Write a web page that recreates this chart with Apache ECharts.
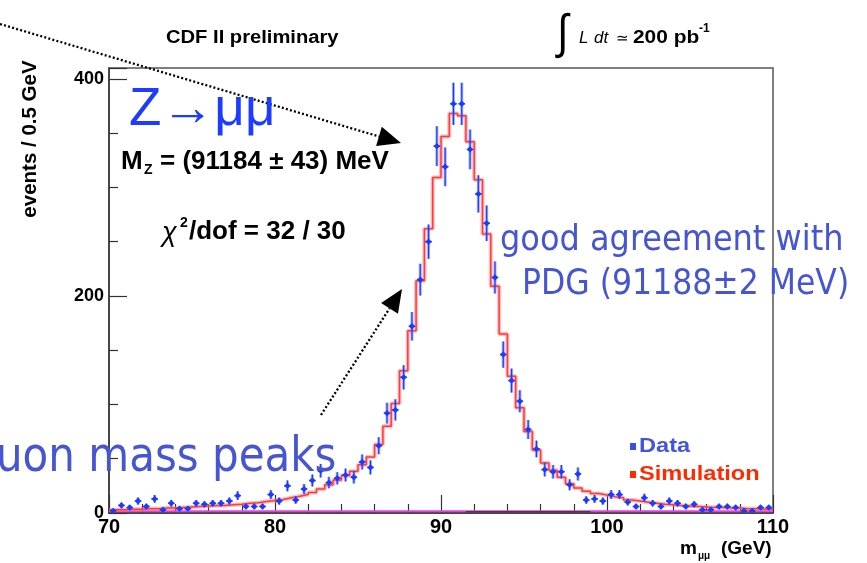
<!DOCTYPE html>
<html>
<head>
<meta charset="utf-8">
<title>CDF II Z→μμ invariant mass</title>
<script src="https://cdn.jsdelivr.net/npm/echarts@6/dist/echarts.min.js"></script>
<style>
  html, body { margin: 0; padding: 0; background: #fff; }
  #chart { width: 867px; height: 563px; }
</style>
</head>
<body>
<div id="chart"></div>
<script>
// Dimuon invariant mass, 0.5 GeV bins from 70 to 110 GeV
var binLow = 70;
var binWidth = 0.5;

// Observed events per bin (80 bins)
var dataCounts = [
  2, 7, 5, 11, 6, 13, 3, 9, 4, 4,
  9, 8, 9, 9, 11, 16, 6, 6, 6, 17,
  11, 25, 12, 22, 30, 39, 28, 32, 35, 33,
  47, 42, 62, 92, 95, 125, 172, 215, 250, 338,
  319, 377, 377, 335, 294, 267, 217, 146, 122, 103,
  77, 59, 40, 38, 38, 26, 36, 12, 13, 11,
  17, 17, 10, 6, 14, 9, 6, 11, 9, 6,
  8, 3, 3, 6, 6, 5, 2, 2, 5, 5
];

// Simulated expectation per bin (80 bins)
var simCounts = [
  3, 3, 3.5, 3.5, 4, 4, 4.5, 4.5, 5, 5.5,
  6, 6.5, 7, 7, 7.5, 8, 9, 9.5, 10.5, 11.5,
  12.5, 14, 15.5, 17, 19, 22, 26, 30.5, 34.5, 38.5,
  44.5, 51.5, 63, 80, 101, 131, 168, 214, 262, 309,
  347, 368, 366, 342, 307, 257, 209, 165, 126, 97,
  75, 58, 46, 39.5, 33, 27, 23, 20, 18, 16.5,
  15, 14, 12, 11, 10, 9, 8, 7.5, 7, 6.5,
  6, 5.5, 5, 5, 4.5, 4.5, 4, 4, 3.5, 3.5
];

// Small background components along the bottom of the plot
var bgFlat = [[70, 1.5], [110, 1.5]];
var bgNarrow = [[91.5, 1.2], [99, 1.2]];

// Axis ticks
var xTicks = [70, 80, 90, 100, 110];
var yTicks = [0, 200, 400];

// Build series input from the arrays above
var dataPoints = dataCounts.map(function (n, i) {
  var centre = binLow + binWidth * (i + 0.5);
  return [centre, n, Math.sqrt(n)];   // Poisson uncertainty
});
var simStep = simCounts.map(function (v, i) {
  return [binLow + binWidth * i, v];
});
simStep.push([binLow + binWidth * simCounts.length, simCounts[simCounts.length - 1]]);

var chart = echarts.init(document.getElementById('chart'), null, { renderer: 'canvas' });

function arrow(x0, y0, x1, y1) {
  var dx = x1 - x0, dy = y1 - y0;
  var len = Math.sqrt(dx * dx + dy * dy);
  var ux = dx / len, uy = dy / len;
  var headLen = 23, headHalf = 10;
  var bx = x1 - ux * headLen, by = y1 - uy * headLen;
  return [
    {
      type: 'line',
      shape: { x1: x0, y1: y0, x2: bx, y2: by },
      style: { stroke: '#000', lineWidth: 2.3, lineDash: [2, 2.2] },
      z: 20
    },
    {
      type: 'polygon',
      shape: { points: [[x1, y1], [bx - uy * headHalf, by + ux * headHalf], [bx + uy * headHalf, by - ux * headHalf]] },
      style: { fill: '#000' },
      z: 20
    }
  ];
}

function txt(x, y, text, font, fill, extra) {
  var el = {
    type: 'text',
    x: x, y: y,
    style: {
      text: text,
      font: font,
      fill: fill || '#000',
      textAlign: 'left',
      textVerticalAlign: 'middle'
    },
    z: 30
  };
  if (extra) { for (var k in extra) { el[k] = extra[k]; } }
  return el;
}

var bold = function (px) { return 'bold ' + px + 'px "Liberation Sans", Arial, sans-serif'; };
var plain = function (px) { return px + 'px "Liberation Sans", Arial, sans-serif'; };
var verd = function (px) { return px + 'px "DejaVu Sans", Verdana, sans-serif'; };

var graphics = [];
graphics = graphics.concat(arrow(0, 24, 401, 143));
graphics = graphics.concat(arrow(321, 415, 402, 289));

// header
graphics.push(txt(166, 38, 'CDF II preliminary', bold(18), '#000', { scaleX: 1.12 }));
graphics.push(txt(557, 35, '\u222B', plain(48), '#000', { scaleX: 0.85 }));
graphics.push(txt(579, 38, 'L', 'italic ' + plain(17), '#000'));
graphics.push(txt(594, 38, 'dt', 'italic ' + plain(17), '#000'));
graphics.push(txt(616, 39, '\u2243', plain(15), '#000'));
graphics.push(txt(633, 38, '200 pb', bold(19), '#000', { scaleX: 1.1 }));
graphics.push(txt(699, 29, '-1', bold(12), '#000'));

// fit results
graphics.push(txt(129, 110, 'Z\u2192\u03BC\u03BC', plain(53), '#1e3cff'));
graphics.push(txt(121, 162, 'M', bold(26), '#000'));
graphics.push(txt(144, 170, 'Z', bold(14), '#000'));
graphics.push(txt(160, 162, '= (91184 \u00B1 43) MeV', bold(26), '#000'));
graphics.push(txt(162, 233, '\u03C7', 'italic ' + plain(27), '#000'));
graphics.push(txt(180, 223, '2', bold(14), '#000'));
graphics.push(txt(189, 232, '/dof = 32 / 30', bold(26), '#000'));

// commentary
graphics.push(txt(500, 241, 'good agreement with', verd(32), '#4655d2', { scaleY: 1.1 }));
graphics.push(txt(522, 285, 'PDG (91188\u00B12 MeV)', verd(32), '#4655d2', { scaleY: 1.1, scaleX: 0.985 }));
graphics.push(txt(-4, 458, 'uon mass peaks', verd(42), '#4655d2', { scaleY: 1.15 }));

// legend
graphics.push({ type: 'rect', shape: { x: 630, y: 443, width: 6, height: 7 }, style: { fill: '#3a50e0' }, z: 30 });
graphics.push(txt(639, 446, 'Data', bold(20), '#4455dd', { scaleX: 1.18 }));
graphics.push({ type: 'rect', shape: { x: 630, y: 471, width: 6, height: 7 }, style: { fill: '#ff2a00' }, z: 30 });
graphics.push(txt(639, 474, 'Simulation', bold(20), '#ff2a00', { scaleX: 1.18 }));

// axis titles
graphics.push({
  type: 'text', x: 30, y: 139, rotation: Math.PI / 2, z: 30,
  style: { text: 'events / 0.5 GeV', font: bold(20.5), fill: '#000', textAlign: 'center', textVerticalAlign: 'middle' }
});
graphics.push(txt(680, 549, 'm', bold(19), '#000'));
graphics.push(txt(698, 556, '\u03BC\u03BC', bold(10), '#000'));
graphics.push(txt(721, 549, '(GeV)', bold(19), '#000'));

var option = {
  animation: false,
  backgroundColor: '#fff',
  grid: {
    left: 109, right: 94, top: 68, bottom: 50,
    show: true, borderColor: '#555', borderWidth: 1.5, backgroundColor: 'transparent'
  },
  xAxis: {
    type: 'value',
    min: 70, max: 110, interval: 10,
    axisLine: { show: true, lineStyle: { color: '#333', width: 1.5 } },
    axisTick: { show: true, inside: true, length: 18, lineStyle: { color: '#333', width: 1.2 } },
    minorTick: { show: true, splitNumber: 5, length: 9, lineStyle: { color: '#333', width: 1.2 } },
    splitLine: { show: false },
    axisLabel: {
      margin: 4, fontSize: 20, fontFamily: 'Liberation Sans', fontWeight: 'bold', color: '#000',
      customValues: xTicks
    }
  },
  yAxis: {
    type: 'value',
    min: 0, max: 410, interval: 200,
    axisLine: { show: true, lineStyle: { color: '#333', width: 1.5 } },
    axisTick: { show: true, inside: true, length: 18, lineStyle: { color: '#333', width: 1.2 } },
    minorTick: { show: true, splitNumber: 4, length: 9, lineStyle: { color: '#333', width: 1.2 } },
    splitLine: { show: false },
    axisLabel: {
      margin: 5, fontSize: 18, fontFamily: 'Liberation Sans', fontWeight: 'bold', color: '#000',
      customValues: yTicks
    }
  },
  series: [
    {
      name: 'Background',
      type: 'line',
      data: bgFlat,
      symbol: 'none',
      lineStyle: { color: '#e040e0', width: 2 },
      z: 2
    },
    {
      name: 'Background (narrow)',
      type: 'line',
      data: bgNarrow,
      symbol: 'none',
      lineStyle: { color: '#553355', width: 1.5 },
      z: 2
    },
    {
      name: 'Simulation glow',
      type: 'line',
      step: 'end',
      data: simStep,
      symbol: 'none',
      lineStyle: { color: 'rgba(255,120,120,0.5)', width: 4 },
      z: 3
    },
    {
      name: 'Simulation',
      type: 'line',
      step: 'end',
      data: simStep,
      symbol: 'none',
      lineStyle: { color: '#ff3b3b', width: 1.5 },
      z: 4
    },
    {
      name: 'Data',
      type: 'custom',
      data: dataPoints,
      z: 5,
      renderItem: function (params, api) {
        var x = api.value(0), n = api.value(1), e = api.value(2);
        var c = api.coord([x, n]);
        var top = api.coord([x, n + e]);
        var bot = api.coord([x, Math.max(n - e, 0)]);
        var l = api.coord([x - 0.2, n]);
        var r = api.coord([x + 0.2, n]);
        var d = 3.2;
        return {
          type: 'group',
          children: [
            { type: 'line', shape: { x1: c[0], y1: top[1], x2: c[0], y2: bot[1] },
              style: { stroke: 'rgba(80,110,255,0.55)', lineWidth: 3 } },
            { type: 'line', shape: { x1: c[0], y1: top[1], x2: c[0], y2: bot[1] },
              style: { stroke: '#1a3cff', lineWidth: 1.2 } },
            { type: 'line', shape: { x1: l[0], y1: c[1], x2: r[0], y2: c[1] },
              style: { stroke: '#1a3cff', lineWidth: 1.5 } },
            { type: 'polygon', shape: { points: [[c[0], c[1] - d], [c[0] + d, c[1]], [c[0], c[1] + d], [c[0] - d, c[1]]] },
              style: { fill: '#1a3cff' } }
          ]
        };
      }
    }
  ],
  graphic: graphics
};

chart.setOption(option);
</script>
</body>
</html>
